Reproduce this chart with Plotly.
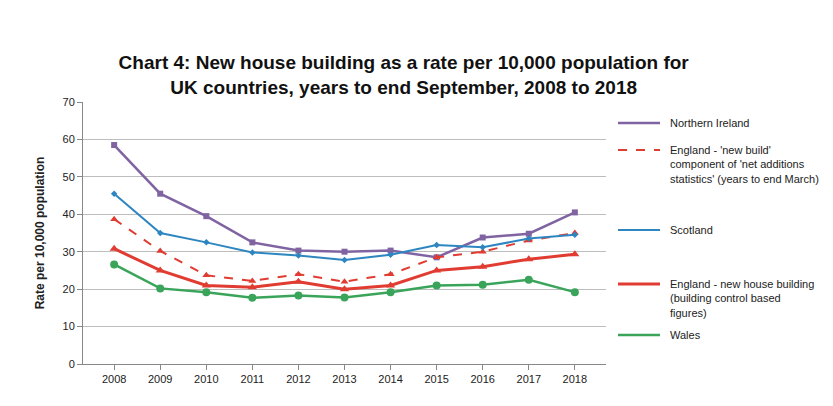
import plotly.graph_objects as go

years = [str(y) for y in range(2008, 2019)]
ni = [58.5, 45.5, 39.5, 32.5, 30.3, 30.0, 30.3, 28.5, 33.8, 34.8, 40.5]
eng_nb = [38.7, 30.2, 23.7, 22.2, 24.0, 22.0, 24.0, 28.5, 30.0, 33.0, 35.0]
scot = [45.5, 35.0, 32.5, 29.8, 29.0, 27.8, 29.2, 31.8, 31.2, 33.5, 34.5]
eng_hb = [30.8, 25.0, 21.0, 20.5, 22.0, 20.0, 21.0, 25.0, 26.0, 28.0, 29.3]
wales = [26.6, 20.2, 19.2, 17.7, 18.3, 17.8, 19.2, 21.0, 21.2, 22.5, 19.2]

series = [
    ("Northern Ireland", ni, "#8064A2", "solid", "square", 6, 2.5),
    ("England - 'new build'<br>component of 'net additions<br>statistics' (years to end March)", eng_nb, "#E03C31", "dash", "triangle-up", 7, 2),
    ("Scotland", scot, "#2E86C1", "solid", "diamond", 5, 2),
    ("England - new house building<br>(building control based<br>figures)", eng_hb, "#E03C31", "solid", "triangle-up", 8, 3),
    ("Wales", wales, "#3AA55A", "solid", "circle", 8, 2.5),
]

L, R, T, B = 75, 235, 94, 50
pw = 833 - L - R
ph = 262

fig = go.Figure()
for name, vals, col, dash, sym, ms, w in series:
    fig.add_scatter(x=years, y=vals, name=name, mode="lines+markers",
                    line=dict(color=col, width=w, dash=dash),
                    marker=dict(symbol=sym, size=ms, color=col))

# manual legend on the right, pixel rows of the sample lines
leg_y = [123, 150, 230, 284, 335]
for (name, vals, col, dash, sym, ms, w), py in zip(series, leg_y):
    yp = 1 - (py - 102) / ph
    fig.add_shape(type="line", xref="paper", yref="paper",
                  x0=(610 - L) / pw, x1=(652 - L) / pw, y0=yp, y1=yp,
                  line=dict(color=col, width=w, dash=dash))
    fig.add_annotation(xref="paper", yref="paper", x=(660 - L) / pw, y=yp + 8 / ph, text=name,
                       showarrow=False, xanchor="left", yanchor="top", align="left",
                       font=dict(size=11, color="#222"))

fig.update_layout(
    width=833, height=406, showlegend=False,
    paper_bgcolor="white", plot_bgcolor="white",
    font=dict(family="Liberation Sans, Arial", size=11, color="#222"),
    margin=dict(l=L, r=R, t=T, b=B),
    title=dict(text="<b>Chart 4: New house building as a rate per 10,000 population for<br>UK countries, years to end September, 2008 to 2018</b>",
               x=0.475, xanchor="center", y=0.85, yanchor="middle", font=dict(size=19, color="#111")),
    xaxis=dict(showline=True, linecolor="#888", ticks="outside", tickcolor="#888", showgrid=False),
    yaxis=dict(range=[0, 70], dtick=10, showline=True, linecolor="#888", ticks="outside", tickcolor="#888",
               gridcolor="#bdbdbd", title=dict(text="<b>Rate per 10,000 population</b>", font=dict(size=12))),
)
fig.write_html("out.html")
